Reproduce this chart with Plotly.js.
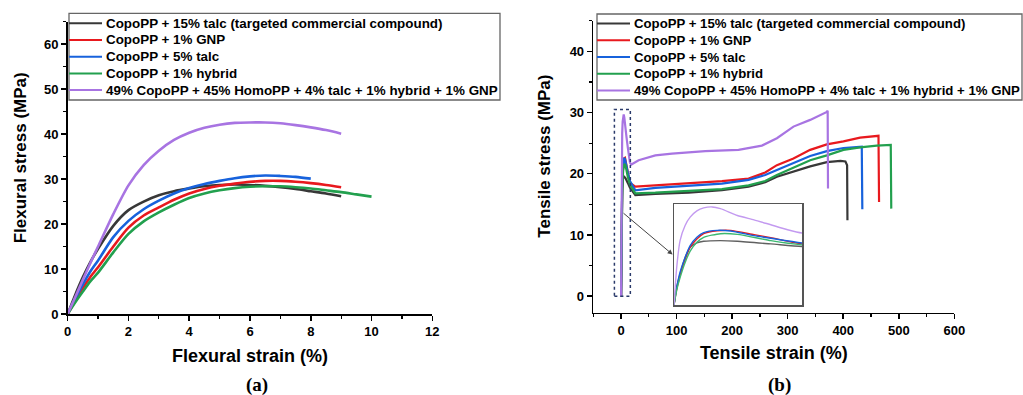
<!DOCTYPE html>
<html>
<head>
<meta charset="utf-8">
<script src="https://cdn.plot.ly/plotly-3.0.1.min.js"></script>
<style>html,body{margin:0;padding:0;background:#fff;}#chart{width:1023px;height:395px;}</style>
</head>
<body>
<div id="chart"></div>
<script>
// ---------- Series names ----------
const seriesNames = [
  "CopoPP + 15% talc (targeted commercial compound)",
  "CopoPP + 1% GNP",
  "CopoPP + 5% talc",
  "CopoPP + 1% hybrid",
  "49% CopoPP + 45% HomoPP + 4% talc + 1% hybrid + 1% GNP"
];
const seriesColors = ["#383838", "#e8191e", "#1762dc", "#22a04e", "#a874e2"];
const insetColors  = ["#606060", "#e8191e", "#1762dc", "#3cb870", "#c39af0"];

// ---------- (a) Flexural: strain (%) vs stress (MPa) ----------
const flexTalc15X = [0,0.25,0.5,0.75,1,1.5,2,2.5,3,3.5,4,4.5,5,5.5,6,6.5,7,7.5,8,8.5,9];
const flexTalc15Y = [0,4.3,8.2,11.6,14.5,19.6,23.1,25.0,26.4,27.3,27.9,28.4,28.7,28.8,28.7,28.5,28.2,27.8,27.3,26.8,26.2];
const flexGnpX    = [0,0.25,0.5,0.75,1,1.5,2,2.5,3,3.5,4,4.5,5,5.5,6,6.5,7,7.5,8,8.5,9];
const flexGnpY    = [0,3.0,5.8,8.3,10.4,15.0,19.2,21.9,23.7,25.4,26.8,27.8,28.5,29.0,29.4,29.6,29.6,29.4,29.1,28.7,28.2];
const flexTalc5X  = [0,0.25,0.5,0.75,1,1.5,2,2.5,3,3.5,4,4.5,5,5.5,6,6.5,7,7.5,8];
const flexTalc5Y  = [0,3.4,6.6,9.5,11.9,17.1,20.7,23.3,25.2,26.8,28.0,28.9,29.6,30.2,30.6,30.8,30.7,30.5,30.1];
const flexHybX    = [0,0.25,0.5,0.75,1,1.5,2,2.5,3,3.5,4,4.5,5,5.5,6,6.5,7,7.5,8,8.5,9,9.5,10];
const flexHybY    = [0,2.6,5.0,7.3,9.2,13.7,17.8,20.6,22.6,24.3,25.8,26.8,27.5,28.0,28.3,28.4,28.4,28.2,27.9,27.5,27.1,26.6,26.1];
const flexBlendX  = [0,0.25,0.5,0.75,1,1.5,2,2.5,3,3.5,4,4.5,5,5.5,6,6.5,7,7.5,8,8.5,9];
const flexBlendY  = [0,3.8,7.6,11.4,15.0,22.2,28.6,33.1,36.3,38.7,40.3,41.4,42.1,42.5,42.6,42.6,42.4,42.0,41.5,40.9,40.1];

// ---------- (b) Tensile: strain (%) vs stress (MPa) ----------
const tenTalc15X = [0,0.34,0.76,1.39,2.02,2.86,3.71,5.81,7.92,12.1,16,25.7,61.7,121.7,181.6,229.6,259.5,280.6,310.4,340.5,370.5,395,404,407,407.6];
const tenTalc15Y = [0,5.5,9.4,14.4,17.5,18.8,19.3,19.5,19.3,18.5,17.7,16.5,16.7,16.9,17.3,17.9,18.6,19.5,20.4,21.2,21.9,22.1,22.0,21.4,12.4];
const tenGnpX    = [0,0.34,0.76,1.39,2.02,2.86,3.71,5.39,7.07,10,12.1,16,25.7,61.7,121.7,181.6,229.6,259.5,280.6,310.4,340.5,370.5,400.4,430.4,463.5,464.5];
const tenGnpY    = [0,4.8,9.1,13.8,17.5,20.0,21.6,22.5,22.6,21.3,20.4,18.5,17.9,18.1,18.4,18.8,19.2,20.2,21.4,22.5,23.9,24.8,25.3,25.9,26.2,15.4];
const tenTalc5X  = [0,0.34,0.76,1.39,2.02,2.86,3.71,5.39,7.07,10,12.1,16,25.7,61.7,121.7,181.6,229.6,259.5,280.6,310.4,340.5,370.5,400.4,433.4,434.4];
const tenTalc5Y  = [0,5.3,9.9,14.4,18.0,20.5,21.9,22.6,22.4,21.0,20.2,18.8,17.3,17.7,18.0,18.4,19.0,19.8,20.6,21.7,22.9,23.7,24.2,24.4,14.2];
const tenHybX    = [0,0.34,0.76,1.39,2.02,2.86,3.71,5.81,7.92,12.1,16,25.7,61.7,121.7,181.6,229.6,259.5,280.6,310.4,340.5,370.5,400.4,430.4,460.4,485.6,486.5];
const tenHybY    = [0,4.5,8.3,12.9,16.3,19.0,20.5,21.6,21.4,19.5,18.2,16.8,16.9,17.2,17.5,18.1,18.8,19.8,21.0,22.2,23.0,23.9,24.3,24.6,24.7,14.3];
const tenBlendX  = [0,0.34,0.76,1.39,2.02,2.86,3.71,4.76,5.81,7.92,10,12.1,14.2,16,18.5,31.7,61.7,91.7,151.6,211.5,253.6,280.6,310.4,340.5,370.5,372,372.6];
const tenBlendY  = [0,11.4,19.5,24.1,26.6,28.5,29.4,29.7,29.2,27.1,25.8,24.3,22.8,21.8,21.5,22.2,23.0,23.3,23.7,23.9,24.6,25.8,27.7,28.8,30.1,30.3,17.6];

// ---------- Axis tick settings ----------
const flexXTicks = [0,2,4,6,8,10,12];
const flexYTicks = [0,10,20,30,40,50,60];
const tenXTicks  = [0,100,200,300,400,500,600];
const tenYTicks  = [0,10,20,30,40];

const flexX = [flexTalc15X, flexGnpX, flexTalc5X, flexHybX, flexBlendX];
const flexY = [flexTalc15Y, flexGnpY, flexTalc5Y, flexHybY, flexBlendY];
const tenX  = [tenTalc15X, tenGnpX, tenTalc5X, tenHybX, tenBlendX];
const tenY  = [tenTalc15Y, tenGnpY, tenTalc5Y, tenHybY, tenBlendY];

const traces = [];
for (let i = 0; i < 5; i++) {
  traces.push({x: flexX[i], y: flexY[i], type: 'scatter', mode: 'lines', name: seriesNames[i],
    xaxis: 'x', yaxis: 'y', showlegend: false,
    line: {color: seriesColors[i], width: 2.6, shape: 'spline', smoothing: 0.8}, hoverinfo: 'skip'});
}
for (let i = 0; i < 5; i++) {
  traces.push({x: tenX[i], y: tenY[i], type: 'scatter', mode: 'lines', name: seriesNames[i],
    xaxis: 'x2', yaxis: 'y2', showlegend: false, line: {color: seriesColors[i], width: 2.2}, hoverinfo: 'skip'});
}
for (let i = 0; i < 5; i++) {
  traces.push({x: tenX[i], y: tenY[i], type: 'scatter', mode: 'lines', name: seriesNames[i],
    xaxis: 'x3', yaxis: 'y3', showlegend: false,
    line: {color: insetColors[i], width: 1.4, shape: 'spline', smoothing: 0.6}, hoverinfo: 'skip'});
}

const W = 1023, H = 395;
const px = v => v / W;
const py = v => 1 - v / H;

const sans = 'Arial, Liberation Sans, sans-serif';
const tickFont = {family: sans, size: 13, color: '#000', weight: 'bold'};
const xTitleFont = {family: sans, size: 18, color: '#000', weight: 'bold'};
const yTitleFont = {family: sans, size: 17, color: '#000', weight: 'bold'};
const legendFontL = {family: sans, size: 13.4, color: '#000', weight: 'bold'};
const legendFontR = {family: sans, size: 13.2, color: '#000', weight: 'bold'};
const capFont = {family: 'Liberation Serif, Times New Roman, serif', size: 19, color: '#000', weight: 'bold'};

function mainAxis(extra) {
  return Object.assign({
    showline: true, linecolor: '#000', linewidth: 1.6, ticks: 'outside', ticklen: 5, tickwidth: 1.5,
    tickcolor: '#000', showgrid: false, zeroline: false, tickfont: tickFont, automargin: false,
    mirror: false, fixedrange: true
  }, extra);
}

// ---------- Hand-built legends (box, swatch lines, labels) ----------
const shapes = [];
const annotations = [];
function buildLegend(bx0, by0, bx1, by1, row0, rowGap, swatchW, font) {
  shapes.push({type: 'rect', xref: 'paper', yref: 'paper', x0: px(bx0), x1: px(bx1), y0: py(by1), y1: py(by0),
    line: {color: '#666', width: 1.3}, fillcolor: '#fff', layer: 'above'});
  seriesNames.forEach((name, i) => {
    const yc = row0 + i * rowGap;
    shapes.push({type: 'line', xref: 'paper', yref: 'paper', x0: px(bx0), x1: px(bx0 + swatchW),
      y0: py(yc), y1: py(yc), line: {color: seriesColors[i], width: 2}, layer: 'above'});
    annotations.push({xref: 'paper', yref: 'paper', x: px(bx0 + swatchW + 2), y: py(yc), xanchor: 'left',
      yanchor: 'middle', text: name, showarrow: false, font: font});
  });
}
buildLegend(69, 13.3, 500, 100, 23.3, 16.7, 33, legendFontL);
buildLegend(597, 14, 1022, 100, 23.6, 16.7, 33, legendFontR);

// Y-axis titles (placed as rotated text to match the reference position)
annotations.push({xref: 'paper', yref: 'paper', x: px(20), y: py(158.3), xanchor: 'center', yanchor: 'middle',
  textangle: -90, text: 'Flexural stress (MPa)', showarrow: false, font: yTitleFont});
annotations.push({xref: 'paper', yref: 'paper', x: px(545), y: py(156.7), xanchor: 'center', yanchor: 'middle',
  textangle: -90, text: 'Tensile stress (MPa)', showarrow: false, font: yTitleFont});

shapes.push({type: 'rect', xref: 'x2', yref: 'y2', x0: -12, x1: 16.7, y0: 0, y1: 30.5,
  line: {color: '#2a3a6a', width: 1.5, dash: 'dot'}, fillcolor: 'rgba(0,0,0,0)', layer: 'above'});
annotations.push({xref: 'x2', yref: 'y2', x: 92.8, y: 6.8, ax: -50.6, ay: -42.6, axref: 'pixel', ayref: 'pixel',
  text: '', showarrow: true, arrowhead: 2, arrowsize: 1, arrowwidth: 1, arrowcolor: '#444'});
annotations.push({xref: 'paper', yref: 'paper', x: px(257), y: py(385), xanchor: 'center', yanchor: 'middle',
  text: '(a)', showarrow: false, font: capFont});
annotations.push({xref: 'paper', yref: 'paper', x: px(779), y: py(385), xanchor: 'center', yanchor: 'middle',
  text: '(b)', showarrow: false, font: capFont});

const layout = {
  width: W, height: H,
  margin: {l: 0, r: 0, t: 0, b: 0},
  paper_bgcolor: '#fff', plot_bgcolor: 'rgba(0,0,0,0)',
  showlegend: false,
  xaxis: mainAxis({domain: [px(67.7), px(432.3)], range: [0, 12], tickvals: flexXTicks, anchor: 'y',
    minor: {dtick: 1, ticks: 'outside', ticklen: 3, tickcolor: '#000', tickwidth: 1.2},
    title: {text: 'Flexural strain (%)', font: xTitleFont, standoff: 11}}),
  yaxis: mainAxis({domain: [py(314), py(21.7)], range: [0, 65], tickvals: flexYTicks, anchor: 'x',
    minor: {dtick: 5, ticks: 'outside', ticklen: 3, tickcolor: '#000', tickwidth: 1.2}}),
  xaxis2: mainAxis({domain: [px(593.3), px(954.3)], range: [-50, 600], tickvals: tenXTicks, anchor: 'y2',
    minor: {dtick: 50, ticks: 'outside', ticklen: 3, tickcolor: '#000', tickwidth: 1.2},
    title: {text: 'Tensile strain (%)', font: xTitleFont, standoff: 9}}),
  yaxis2: mainAxis({domain: [py(312.7), py(20.7)], range: [-2.7, 45], tickvals: tenYTicks, anchor: 'x2',
    minor: {dtick: 5, ticks: 'outside', ticklen: 3, tickcolor: '#000', tickwidth: 1.2}}),
  xaxis3: {domain: [px(674), px(802)], range: [0, 16], anchor: 'y3', showline: true, mirror: true,
    linecolor: '#555', linewidth: 1.5, showticklabels: false, ticks: '', showgrid: false, zeroline: false, fixedrange: true},
  yaxis3: {domain: [py(305), py(204.3)], range: [0, 30.5], anchor: 'x3', showline: true, mirror: true,
    linecolor: '#555', linewidth: 1.5, showticklabels: false, ticks: '', showgrid: false, zeroline: false, fixedrange: true},
  shapes: shapes,
  annotations: annotations
};

Plotly.newPlot('chart', traces, layout, {displayModeBar: false, staticPlot: true});
</script>
</body>
</html>
